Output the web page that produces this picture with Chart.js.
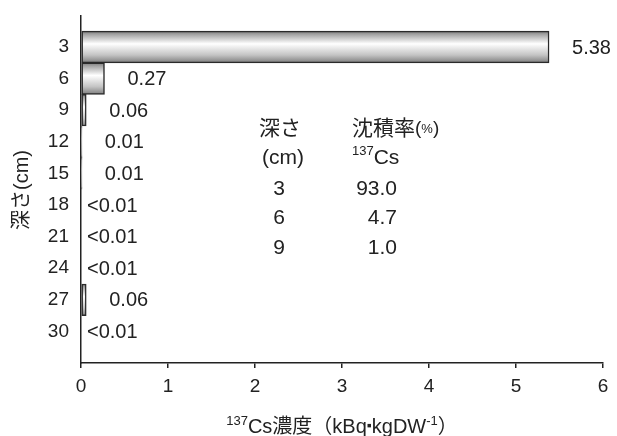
<!DOCTYPE html>
<html>
<head>
<meta charset="utf-8">
<script src="https://cdn.jsdelivr.net/npm/chart.js@4/dist/chart.umd.min.js"></script>
<style>
  html, body { margin: 0; padding: 0; background: #fff; }
  #wrap { width: 617px; height: 436px; }
</style>
</head>
<body>
<div id="wrap"><canvas id="csChart"></canvas></div>
<script>
// depth categories (cm) and 137Cs concentration (kBq/kgDW)
const depths = ['3', '6', '9', '12', '15', '18', '21', '24', '27', '30'];
const concValues = [5.38, 0.27, 0.06, 0.01, 0.01, null, null, null, 0.06, null];
const concLabels = ['5.38', '0.27', '0.06', '0.01', '0.01', '<0.01', '<0.01', '<0.01', '0.06', '<0.01'];
const xTicks = [0, 1, 2, 3, 4, 5, 6];

// inset table: deposition ratio
const tableDepths = ['3', '6', '9'];
const tableRatios = ['93.0', '4.7', '1.0'];

const FONT = "'Liberation Sans', 'Noto Sans CJK JP', sans-serif";

// pad the category list so bands sit like the original
const paddedLabels = [''].concat(depths, ['']);
const paddedValues = [null].concat(concValues, [null]);

function barGradient(context) {
    const chart = context.chart;
    const yScale = chart.scales.y;
    if (!yScale || context.dataIndex === undefined) return '#ccc';
    const yc = yScale.getPixelForValue(context.dataIndex);
    if (!isFinite(yc)) return '#ccc';
    const half = 16;
    const g = chart.ctx.createLinearGradient(0, yc - half, 0, yc + half);
    g.addColorStop(0, '#7a7a7a');
    g.addColorStop(0.12, '#a8a8a8');
    g.addColorStop(0.4, '#ffffff');
    g.addColorStop(0.75, '#c4c4c4');
    g.addColorStop(1, '#7c7c7c');
    return g;
}

// draw a run of text pieces with different sizes / baseline shifts
function drawRuns(ctx, parts, x, y, align) {
    let total = 0;
    parts.forEach(p => { ctx.font = p.f + FONT; p.w = ctx.measureText(p.t).width; total += p.w; });
    let cx = align === 'center' ? x - total / 2 : x;
    ctx.textAlign = 'left';
    parts.forEach(p => {
        ctx.font = p.f + FONT;
        ctx.fillText(p.t, cx, y + (p.dy || 0));
        cx += p.w;
    });
}

// value labels next to bars, axis titles and inset table
const extrasPlugin = {
    id: 'extras',
    afterDatasetsDraw(chart) {
        const ctx = chart.ctx;
        const x = chart.scales.x;
        const y = chart.scales.y;
        ctx.save();
        ctx.fillStyle = '#222';
        ctx.textBaseline = 'middle';
        ctx.textAlign = 'left';
        ctx.font = '20px ' + FONT;
        concLabels.forEach((lab, i) => {
            const v = concValues[i] || 0;
            const yc = y.getPixelForValue(i + 1);
            const gap = lab.startsWith('<') ? 6 : 23;
            ctx.fillText(lab, x.getPixelForValue(v) + gap, yc + 1);
        });

        // inset table
        ctx.font = '21px ' + FONT;
        ctx.textAlign = 'center';
        ctx.fillText('深さ', 280, 129);
        ctx.fillText('(cm)', 283, 158);
        drawRuns(ctx, [
            { t: '沈積率', f: '21px ' },
            { t: '(', f: '19px ' },
            { t: '%', f: '13px ' },
            { t: ')', f: '19px ' }
        ], 352, 129, 'left');
        drawRuns(ctx, [
            { t: '137', f: '13px ', dy: -7 },
            { t: 'Cs', f: '21px ' }
        ], 352, 158, 'left');
        tableDepths.forEach((d, i) => {
            const ty = 189 + i * 29.5;
            ctx.textAlign = 'center';
            ctx.fillText(d, 279, ty);
            ctx.textAlign = 'right';
            ctx.fillText(tableRatios[i], 397, ty);
        });

        // x axis title with superscripts
        ctx.textBaseline = 'alphabetic';
        drawRuns(ctx, [
            { t: '137', f: '13px ', dy: -8 },
            { t: 'Cs濃度', f: '20px ' },
            { t: '（', f: '20px ' },
            { t: 'kBq', f: '20px ' },
            { t: '▪', f: '14px ', dy: -3 },
            { t: 'kgDW', f: '20px ' },
            { t: '-1', f: '13px ', dy: -8 },
            { t: '）', f: '20px ' }
        ], (chart.chartArea.left + chart.chartArea.right) / 2, 433, 'center');

        // y axis title
        ctx.translate(22, 190);
        ctx.rotate(-Math.PI / 2);
        ctx.textAlign = 'center';
        ctx.textBaseline = 'middle';
        ctx.font = '20px ' + FONT;
        ctx.fillText('深さ(cm)', 0, 0);
        ctx.restore();
    }
};

new Chart(document.getElementById('csChart'), {
    type: 'bar',
    data: {
        labels: paddedLabels,
        datasets: [{
            data: paddedValues,
            backgroundColor: barGradient,
            borderColor: '#2a2a2a',
            borderWidth: 1.5,
            borderSkipped: false,
            categoryPercentage: 1,
            barPercentage: 1,
            minBarLength: 1
        }]
    },
    options: {
        indexAxis: 'y',
        responsive: true,
        maintainAspectRatio: false,
        animation: false,
        layout: { padding: { top: 4, right: 14, left: 0, bottom: 0 } },
        plugins: {
            legend: { display: false },
            tooltip: { enabled: false }
        },
        scales: {
            x: {
                min: 0,
                max: 6,
                afterBuildTicks: (s) => { s.ticks = xTicks.map(v => ({ value: v })); },
                afterFit: (s) => { s.height = 73; },
                grid: { drawOnChartArea: false, drawTicks: true, tickLength: 5, color: '#222', lineWidth: 1.5 },
                border: { display: true, color: '#222', width: 1.5 },
                ticks: { color: '#222', font: { size: 19, family: FONT }, padding: 7 }
            },
            y: {
                offset: false,
                afterFit: (s) => { s.width = 81; },
                grid: { display: false },
                border: { display: true, color: '#222', width: 1.5 },
                ticks: { color: '#222', font: { size: 19, family: FONT }, padding: 4, autoSkip: false }
            }
        }
    },
    plugins: [extrasPlugin]
});
</script>
</body>
</html>
